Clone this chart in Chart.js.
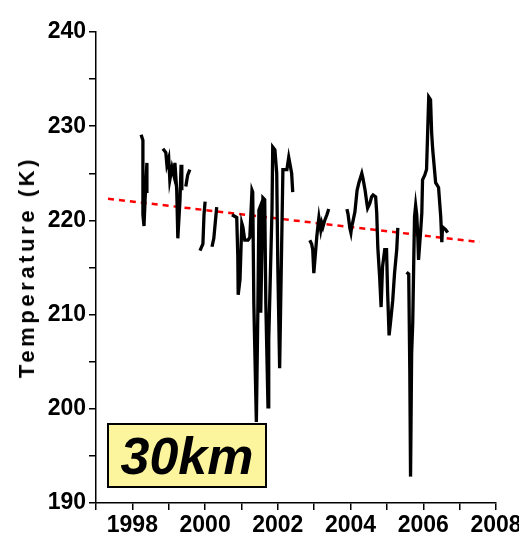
<!DOCTYPE html>
<html>
<head>
<meta charset="utf-8">
<script src="https://cdn.jsdelivr.net/npm/chart.js@4/dist/chart.umd.min.js"></script>
<style>
  html, body { margin: 0; padding: 0; background: #fff; }
  #wrap { position: relative; width: 519px; height: 543px; }
  #yTitle {
    position: absolute; left: 27px; top: 267px;
    transform: translate(-50%, -50%) rotate(-90deg);
    font: bold 22px "Liberation Sans", Arial, sans-serif;
    letter-spacing: 3.6px; white-space: nowrap; color: #000;
  }
  #tag {
    position: absolute; left: 107px; top: 423px; width: 156px; height: 61px;
    background: #fdf59d; border: 2.5px solid #000;
    font: italic bold 52px "Liberation Sans", Arial, sans-serif;
    line-height: 62px; text-align: center; color: #000;
  }
</style>
</head>
<body>
<div id="wrap">
  <canvas id="chart" width="519" height="543"></canvas>
  <div id="yTitle">Temperature (K)</div>
  <div id="tag">30km</div>
</div>
<script>
// time in decimal years, temperature in K (null = data gap)
var years = [
  1998.24, 1998.29, 1998.29, 1998.29, 1998.32, 1998.35, 1998.40, 1998.40, null,
  1998.84, 1998.92, 1998.95, 1999.00, 1999.03, 1999.09, 1999.14, 1999.17, 1999.22, 1999.25, 1999.31, 1999.34, 1999.36, null,
  1999.47, 1999.52, 1999.58, null,
  1999.86, 1999.94, 1999.97, 2000.00, null,
  2000.19, 2000.24, 2000.30, 2000.32, null,
  2000.74, 2000.87, 2000.90, 2000.91, 2000.96, 2001.01, 2001.04, 2001.09, 2001.18, 2001.23, 2001.29, 2001.31,
  2001.34, 2001.41, 2001.45, 2001.48, 2001.51, 2001.53, 2001.59, 2001.64, 2001.67, 2001.73, 2001.75, 2001.84,
  2001.86, 2001.92, 2001.97, 2002.00, 2002.05, 2002.08, 2002.14, 2002.25, 2002.30, 2002.38, 2002.41, null,
  2002.88, 2002.93, 2002.96, 2002.99, 2003.02, 2003.07, 2003.10, 2003.13, 2003.18, 2003.21, 2003.24, 2003.29, 2003.35, 2003.40, null,
  2003.90, 2003.93, 2003.98, 2004.01, 2004.03, 2004.06, 2004.12, 2004.18, 2004.23, 2004.31, 2004.34, 2004.40,
  2004.45, 2004.47, 2004.53, 2004.58, 2004.62, 2004.69, 2004.72, 2004.75, 2004.80, 2004.84, 2004.88, 2004.94,
  2004.99, 2005.02, 2005.06, 2005.10, 2005.16, 2005.21, 2005.27, 2005.30, null,
  2005.54, 2005.60, 2005.63, 2005.65, 2005.68, 2005.71, 2005.74, 2005.76, 2005.79, 2005.82, 2005.85, 2005.87,
  2005.93, 2005.96, 2005.98, 2006.04, 2006.09, 2006.12, 2006.15, 2006.20, 2006.23, 2006.26, 2006.34, 2006.42,
  2006.48, 2006.51, 2006.53, 2006.62, 2006.67
];

var temps = [
  229.1, 228.5, 224.1, 220.6, 219.4, 222.2, 226.1, 222.9, null,
  227.6, 227.2, 225.9, 226.6, 224.3, 225.6, 224.8, 226.1, 223.2, 218.1, 222.2, 225.9, 223.2, null,
  223.6, 224.8, 225.4, null,
  216.8, 217.5, 220.6, 222.0, null,
  217.2, 218.1, 220.6, 221.4, null,
  220.6, 220.3, 216.1, 212.1, 213.7, 219.7, 219.3, 217.9, 217.9, 218.2, 223.2, 223.0,
  211.2, 198.6, 210.2, 221.1, 221.4, 210.2, 222.4, 222.2, 211.2, 200.2, 207.3, 221.1,
  227.8, 227.5, 225.0, 215.1, 204.3, 211.5, 225.4, 225.4, 226.7, 225.0, 223.0, null,
  217.9, 217.5, 216.9, 214.4, 215.8, 218.2, 219.3, 220.3, 219.0, 219.7, 219.3, 220.0, 220.6, 221.2, null,
  221.2, 220.7, 219.2, 218.7, 219.3, 219.8, 220.9, 223.2, 224.0, 225.0, 224.5, 223.2,
  221.8, 221.3, 221.8, 222.5, 222.7, 222.5, 220.8, 217.1, 214.0, 210.8, 215.1, 216.9,
  216.9, 212.3, 207.8, 209.2, 211.5, 214.4, 216.9, 219.2, null,
  214.5, 214.3, 203.8, 192.8, 205.9, 209.1, 216.1, 220.4, 221.6, 220.6, 218.2, 215.8,
  219.0, 220.8, 224.3, 224.8, 225.4, 229.3, 233.1, 232.8, 229.3, 227.5, 224.0, 223.5,
  220.4, 217.7, 219.3, 219.0, 218.7
];

// linear trend (red dashed)
var trendYears = [1997.33, 2007.55];
var trendTemps = [222.3, 217.7];

var xTicks = [1998, 2000, 2002, 2004, 2006, 2008];
var yTicks = [190, 200, 210, 220, 230, 240];

function toPoints(xs, ys) {
  return xs.map(function(x, i) {
    return x === null ? { x: NaN, y: null } : { x: x, y: ys[i] };
  });
}

var tickFont = { family: "'Liberation Sans', Arial, sans-serif", size: 23, weight: 'bold' };

new Chart(document.getElementById('chart'), {
  type: 'line',
  data: {
    datasets: [
      {
        data: toPoints(years, temps),
        borderColor: '#000',
        borderWidth: 3.3,
        pointRadius: 0,
        tension: 0,
        spanGaps: false
      },
      {
        data: toPoints(trendYears, trendTemps),
        borderColor: '#ff0000',
        borderWidth: 2.5,
        borderDash: [6, 5],
        pointRadius: 0
      }
    ]
  },
  options: {
    responsive: false,
    animation: false,
    events: [],
    layout: { padding: { top: 32, right: 23, bottom: 0, left: 0 } },
    plugins: { legend: { display: false }, tooltip: { enabled: false } },
    scales: {
      x: {
        type: 'linear',
        min: 1997,
        max: 2008,
        border: { display: true, color: '#000', width: 1.5 },
        grid: { drawOnChartArea: false, drawTicks: true, tickLength: 7, color: '#000', lineWidth: 1.5 },
        ticks: {
          stepSize: 1,
          autoSkip: false,
          maxRotation: 0,
          color: '#000',
          font: tickFont,
          padding: 2,
          callback: function(v) { return xTicks.indexOf(v) >= 0 ? String(v) : ''; }
        },
        // keep the plot edge fixed, let "2008" hang over the padding
        afterFit: function(scale) { scale.height = 40; scale.paddingRight = 0; scale.paddingLeft = 0; }
      },
      y: {
        min: 190,
        max: 240,
        border: { display: true, color: '#000', width: 1.5 },
        grid: { drawOnChartArea: false, drawTicks: true, tickLength: 7, color: '#000', lineWidth: 1.5 },
        ticks: {
          stepSize: 5,
          autoSkip: false,
          color: '#000',
          font: tickFont,
          padding: 3,
          callback: function(v) { return yTicks.indexOf(v) >= 0 ? String(v) : ''; }
        },
        afterFit: function(scale) { scale.width = 96; scale.paddingTop = 0; scale.paddingBottom = 0; }
      }
    }
  }
});
</script>
</body>
</html>
